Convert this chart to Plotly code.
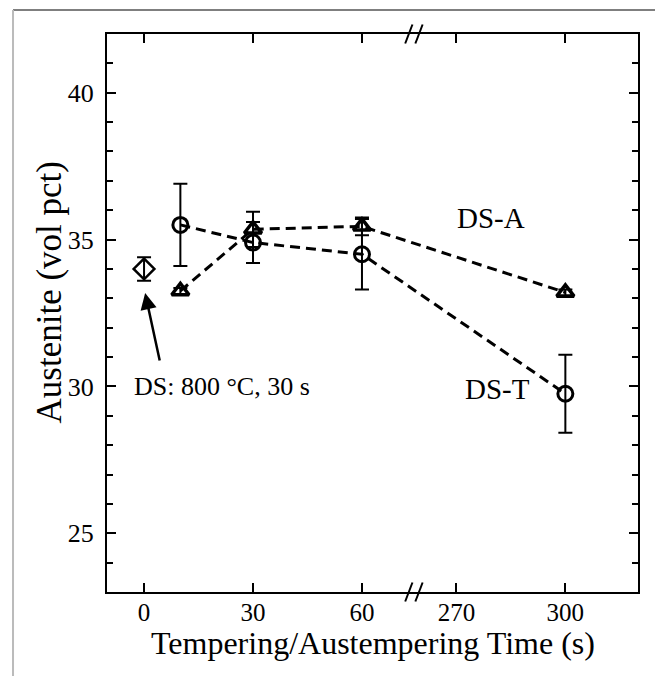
import plotly.graph_objects as go

# ---- data ----
ds_time = [0]
ds_aust = [34.0]
ds_err = [0.4]

t_times = [10, 30, 60, 300]
dst_aust = [35.5, 34.9, 34.5, 29.75]
dst_err = [1.4, 0.7, 1.2, 1.33]

dsa_aust = [33.25, 35.35, 35.45, 33.2]
dsa_err = [0.1, 0.6, 0.3, 0.1]

xtick_vals = [0, 30, 60, 270, 300]
ytick_vals = [25, 30, 35, 40]

x_title = "Tempering/Austempering Time (s)"
y_title = "Austenite (vol pct)"

# broken x-axis: 60 -> 270 gap compressed
BREAK_LO, BREAK_HI, GAP = 60, 270, 26


def bx(v):
    return v if v <= BREAK_LO else v - BREAK_HI + BREAK_LO + GAP


FONT = "Liberation Serif"
DASH = "10px,6px"
fig = go.Figure()

fig.add_trace(go.Scatter(
    x=[bx(v) for v in t_times], y=dst_aust,
    error_y=dict(type="data", array=dst_err, color="black", thickness=2, width=7),
    mode="lines+markers",
    line=dict(color="black", width=3, dash=DASH),
    marker=dict(symbol="circle-open", size=15, color="black", line=dict(width=3)),
    showlegend=False))

fig.add_trace(go.Scatter(
    x=[bx(v) for v in t_times], y=dsa_aust,
    error_y=dict(type="data", array=dsa_err, color="black", thickness=2, width=7),
    mode="lines+markers",
    line=dict(color="black", width=3, dash=DASH),
    marker=dict(symbol="triangle-up-open", size=15, color="black", line=dict(width=3.5)),
    showlegend=False))

fig.add_trace(go.Scatter(
    x=[bx(v) for v in ds_time], y=ds_aust,
    error_y=dict(type="data", array=ds_err, color="black", thickness=2, width=7),
    mode="markers",
    marker=dict(symbol="diamond-open", size=16, color="black", line=dict(width=2.5)),
    showlegend=False))

# break marks (paper y) on bottom and top
shapes = []
for yc in (0, 1):
    for xc in (bx(60) + 12.9, bx(60) + 15.7):
        shapes.append(dict(type="line", xref="x", yref="paper",
                           x0=xc - 1.0, x1=xc + 1.0, y0=yc - 0.017, y1=yc + 0.017,
                           line=dict(color="black", width=2)))
# outer page frame
shapes.append(dict(type="line", xref="paper", yref="paper", x0=-0.177, x1=1.047,
                   y0=1.043, y1=1.043, line=dict(color="#555555", width=1.5)))
shapes.append(dict(type="line", xref="paper", yref="paper", x0=-0.177, x1=-0.177,
                   y0=1.043, y1=-0.2, line=dict(color="#bbbbbb", width=2)))
shapes.append(dict(type="line", xref="paper", yref="paper", x0=1.043, x1=1.043,
                   y0=1.043, y1=-0.2, line=dict(color="#888888", width=1.5)))

annotations = [
    dict(x=bx(0) + 0.3, y=33.18, ax=bx(0) + 4.4, ay=30.83, axref="x", ayref="y",
         xref="x", yref="y", text="", showarrow=True, arrowhead=2, arrowsize=1.3,
         arrowwidth=2.5, arrowcolor="black"),
    dict(x=-3.2, y=30.0, xref="x", yref="y", text="DS: 800 °C, 30 s", showarrow=False,
         xanchor="left", font=dict(family=FONT, size=26, color="black")),
    dict(x=95.6, y=35.75, xref="x", yref="y", text="DS-A", showarrow=False,
         font=dict(family=FONT, size=29, color="black")),
    dict(x=97.2, y=29.9, xref="x", yref="y", text="DS-T", showarrow=False,
         font=dict(family=FONT, size=29, color="black")),
    # axis titles
    dict(x=0.5, y=-0.0916, xref="paper", yref="paper", text=x_title, showarrow=False,
         xanchor="center", yanchor="middle", font=dict(family=FONT, size=32, color="black")),
    dict(x=-0.109, y=0.537, xref="paper", yref="paper", text=y_title, showarrow=False,
         textangle=-90, xanchor="center", yanchor="middle",
         font=dict(family=FONT, size=35, color="black")),
]

# page body has an 8px default margin; compensate so the plot area sits at 107..638 x 34..592
fig.update_layout(
    width=655, height=668,
    margin=dict(l=99, r=25, t=26, b=84),
    paper_bgcolor="white", plot_bgcolor="white",
    font=dict(family=FONT, size=26, color="black"),
    shapes=shapes, annotations=annotations,
    xaxis=dict(range=[-10.2, 136], tickvals=[bx(v) for v in xtick_vals],
               ticktext=[str(v) for v in xtick_vals],
               ticks="inside", ticklen=9, tickwidth=2, tickcolor="black",
               showline=True, linewidth=2, linecolor="black", mirror="ticks",
               showgrid=False, zeroline=False, ticklabelstandoff=-3,
               tickfont=dict(size=25)),
    yaxis=dict(range=[23, 42], tickvals=ytick_vals,
               ticks="inside", ticklen=9, tickwidth=2, tickcolor="black",
               minor=dict(dtick=1, ticks="inside", ticklen=6, tickwidth=1.5, tickcolor="black"),
               showline=True, linewidth=2, linecolor="black", mirror="ticks",
               showgrid=False, zeroline=False, ticklabelstandoff=6),
)

fig.write_html("out.html")
